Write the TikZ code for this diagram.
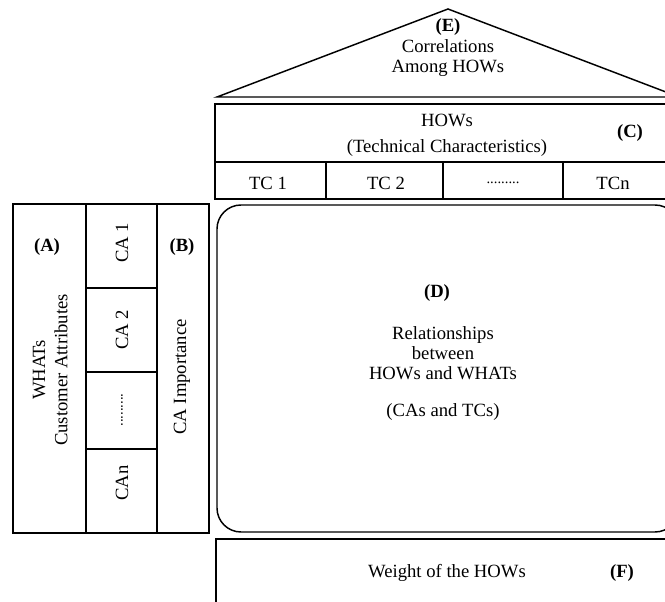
\documentclass[tikz,border=0pt]{standalone}
\usepackage{fontspec}
\setmainfont{Liberation Serif}
\begin{document}
\begin{tikzpicture}[x=0.75pt,y=-0.75pt,
  box/.style={draw=black,line width=1.1pt},
  txt/.style={font=\fontsize{14}{15}\selectfont, inner sep=0pt, align=center},
  lbl/.style={font=\fontsize{14}{15}\selectfont\bfseries, inner sep=0pt},
  dots/.style={font=\fontsize{11}{12}\selectfont, inner sep=0pt}]
\useasboundingbox (0,0) rectangle (665,602);
\clip (0,0) rectangle (665,602);
% roof (E)
\draw[box] (217,97) -- (448,9) -- (679,97) -- cycle;
% HOWs (C)
\draw[box] (215,104) rectangle (679,199);
\draw[box] (215,162) -- (679,162);
\draw[box] (326,162) -- (326,199);
\draw[box] (443,162) -- (443,199);
\draw[box] (563,162) -- (563,199);
% relationships (D)
\draw[box, rounded corners=18] (217,205) rectangle (679,532);
% weights (F)
\draw[box] (216,539) rectangle (679,650);
% left block (A) (B)
\draw[box] (13,204) rectangle (209,533);
\draw[box] (86,204) -- (86,533);
\draw[box] (157,204) -- (157,533);
\draw[box] (86,288) -- (157,288);
\draw[box] (86,372) -- (157,372);
\draw[box] (86,449) -- (157,449);
% texts
\node[lbl] (E) at (448,27) {(E)};
\node[txt] (corr) at (448,58) {Correlations\\Among HOWs};
\node[txt] (hows) at (447,120) {HOWs};
\node[txt] (tech) at (447,148) {(Technical Characteristics)};
\node[lbl] (C) at (630,133) {(C)};
\node[txt] (tc1) at (268,183) {TC 1};
\node[txt] (tc2) at (386,183) {TC 2};
\node[dots] (tcd) at (503,183) {.........};
\node[txt] (tcn) at (613,183) {TCn};
\node[lbl] (A) at (47,247) {(A)};
\node[txt, rotate=90] (whats) at (39,370) {WHATs};
\node[txt, rotate=90] (custattr) at (61,370) {Customer Attributes};
\node[txt, rotate=90] (ca1) at (122,243) {CA 1};
\node[txt, rotate=90] (ca2) at (122,330) {CA 2};
\node[dots, rotate=90] (cad) at (122,410) {.........};
\node[txt, rotate=90] (can) at (122,483) {CAn};
\node[lbl] (B) at (182,247) {(B)};
\node[txt, rotate=90] (caimp) at (182,377) {CA Importance};
\node[lbl] (D) at (437,293) {(D)};
\node[txt] (rel) at (443,353) {Relationships\\between\\HOWs and WHATs};
\node[txt] (cas) at (443,412) {(CAs and TCs)};
\node[txt] (weight) at (447,573) {Weight of the HOWs};
\node[lbl] (F) at (622,573) {(F)};
\end{tikzpicture}
\end{document}
